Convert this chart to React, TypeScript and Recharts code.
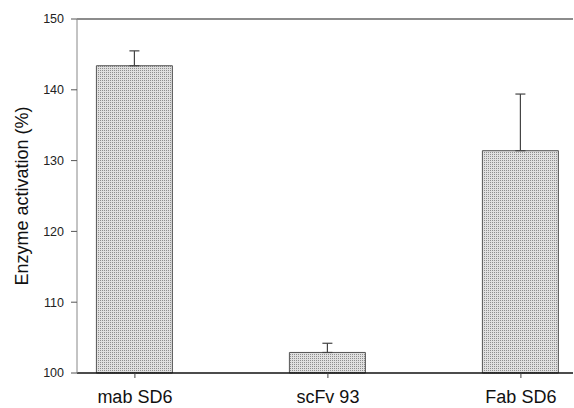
import { BarChart, Bar, XAxis, YAxis, ErrorBar, ReferenceLine } from 'recharts';

const categories = ['mab SD6', 'scFv 93', 'Fab SD6'];
const activation = [143.4, 102.9, 131.4];
const upperError = [2.1, 1.3, 8.0];
const yTicks = [100, 110, 120, 130, 140, 150];

const data = categories.map((name, i) => ({
  pos: i,
  name,
  value: activation[i],
  err: [0, upperError[i]],
}));

const font = 'Arial, "Liberation Sans", sans-serif';

export default function App() {
  return (
    <div style={{ position: 'absolute', left: 0, top: 0 }}>
      <BarChart
        width={574}
        height={408}
        data={data}
        margin={{ top: 19, right: 1, left: 0, bottom: 0 }}
      >
        <defs>
          <pattern id="stipple" width="2" height="2" patternUnits="userSpaceOnUse">
            <rect width="2" height="2" fill="#e0e0e0" />
            <rect width="1" height="1" fill="#8e8e8e" />
          </pattern>
        </defs>
        <XAxis
          dataKey="pos"
          type="number"
          domain={[-0.3, 2.27]}
          ticks={[0, 1, 2]}
          allowDataOverflow
          tickFormatter={(v: number) => categories[v]}
          height={35}
          tickSize={5}
          tickMargin={12}
          axisLine={{ stroke: '#111', strokeWidth: 1.5 }}
          tickLine={{ stroke: '#444' }}
          tick={{ fill: '#111', fontSize: 18, fontFamily: font }}
        />
        <YAxis
          domain={[100, 150]}
          ticks={yTicks}
          width={77}
          tickSize={6}
          tickMargin={7}
          axisLine={{ stroke: '#888' }}
          tickLine={{ stroke: '#555' }}
          tick={{ fill: '#222', fontSize: 12.5, fontFamily: font }}
          label={{
            value: 'Enzyme activation (%)',
            angle: -90,
            position: 'insideLeft',
            offset: 22,
            style: { textAnchor: 'middle', fontSize: 18, fontFamily: font, fill: '#111' },
          }}
        />
        <ReferenceLine y={150} stroke="#666" strokeWidth={1.5} />
        <Bar
          dataKey="value"
          barSize={76}
          fill="url(#stipple)"
          stroke="#555"
          strokeWidth={1}
          isAnimationActive={false}
        >
          <ErrorBar dataKey="err" direction="y" width={5} stroke="#444" strokeWidth={1.2} />
        </Bar>
      </BarChart>
    </div>
  );
}
